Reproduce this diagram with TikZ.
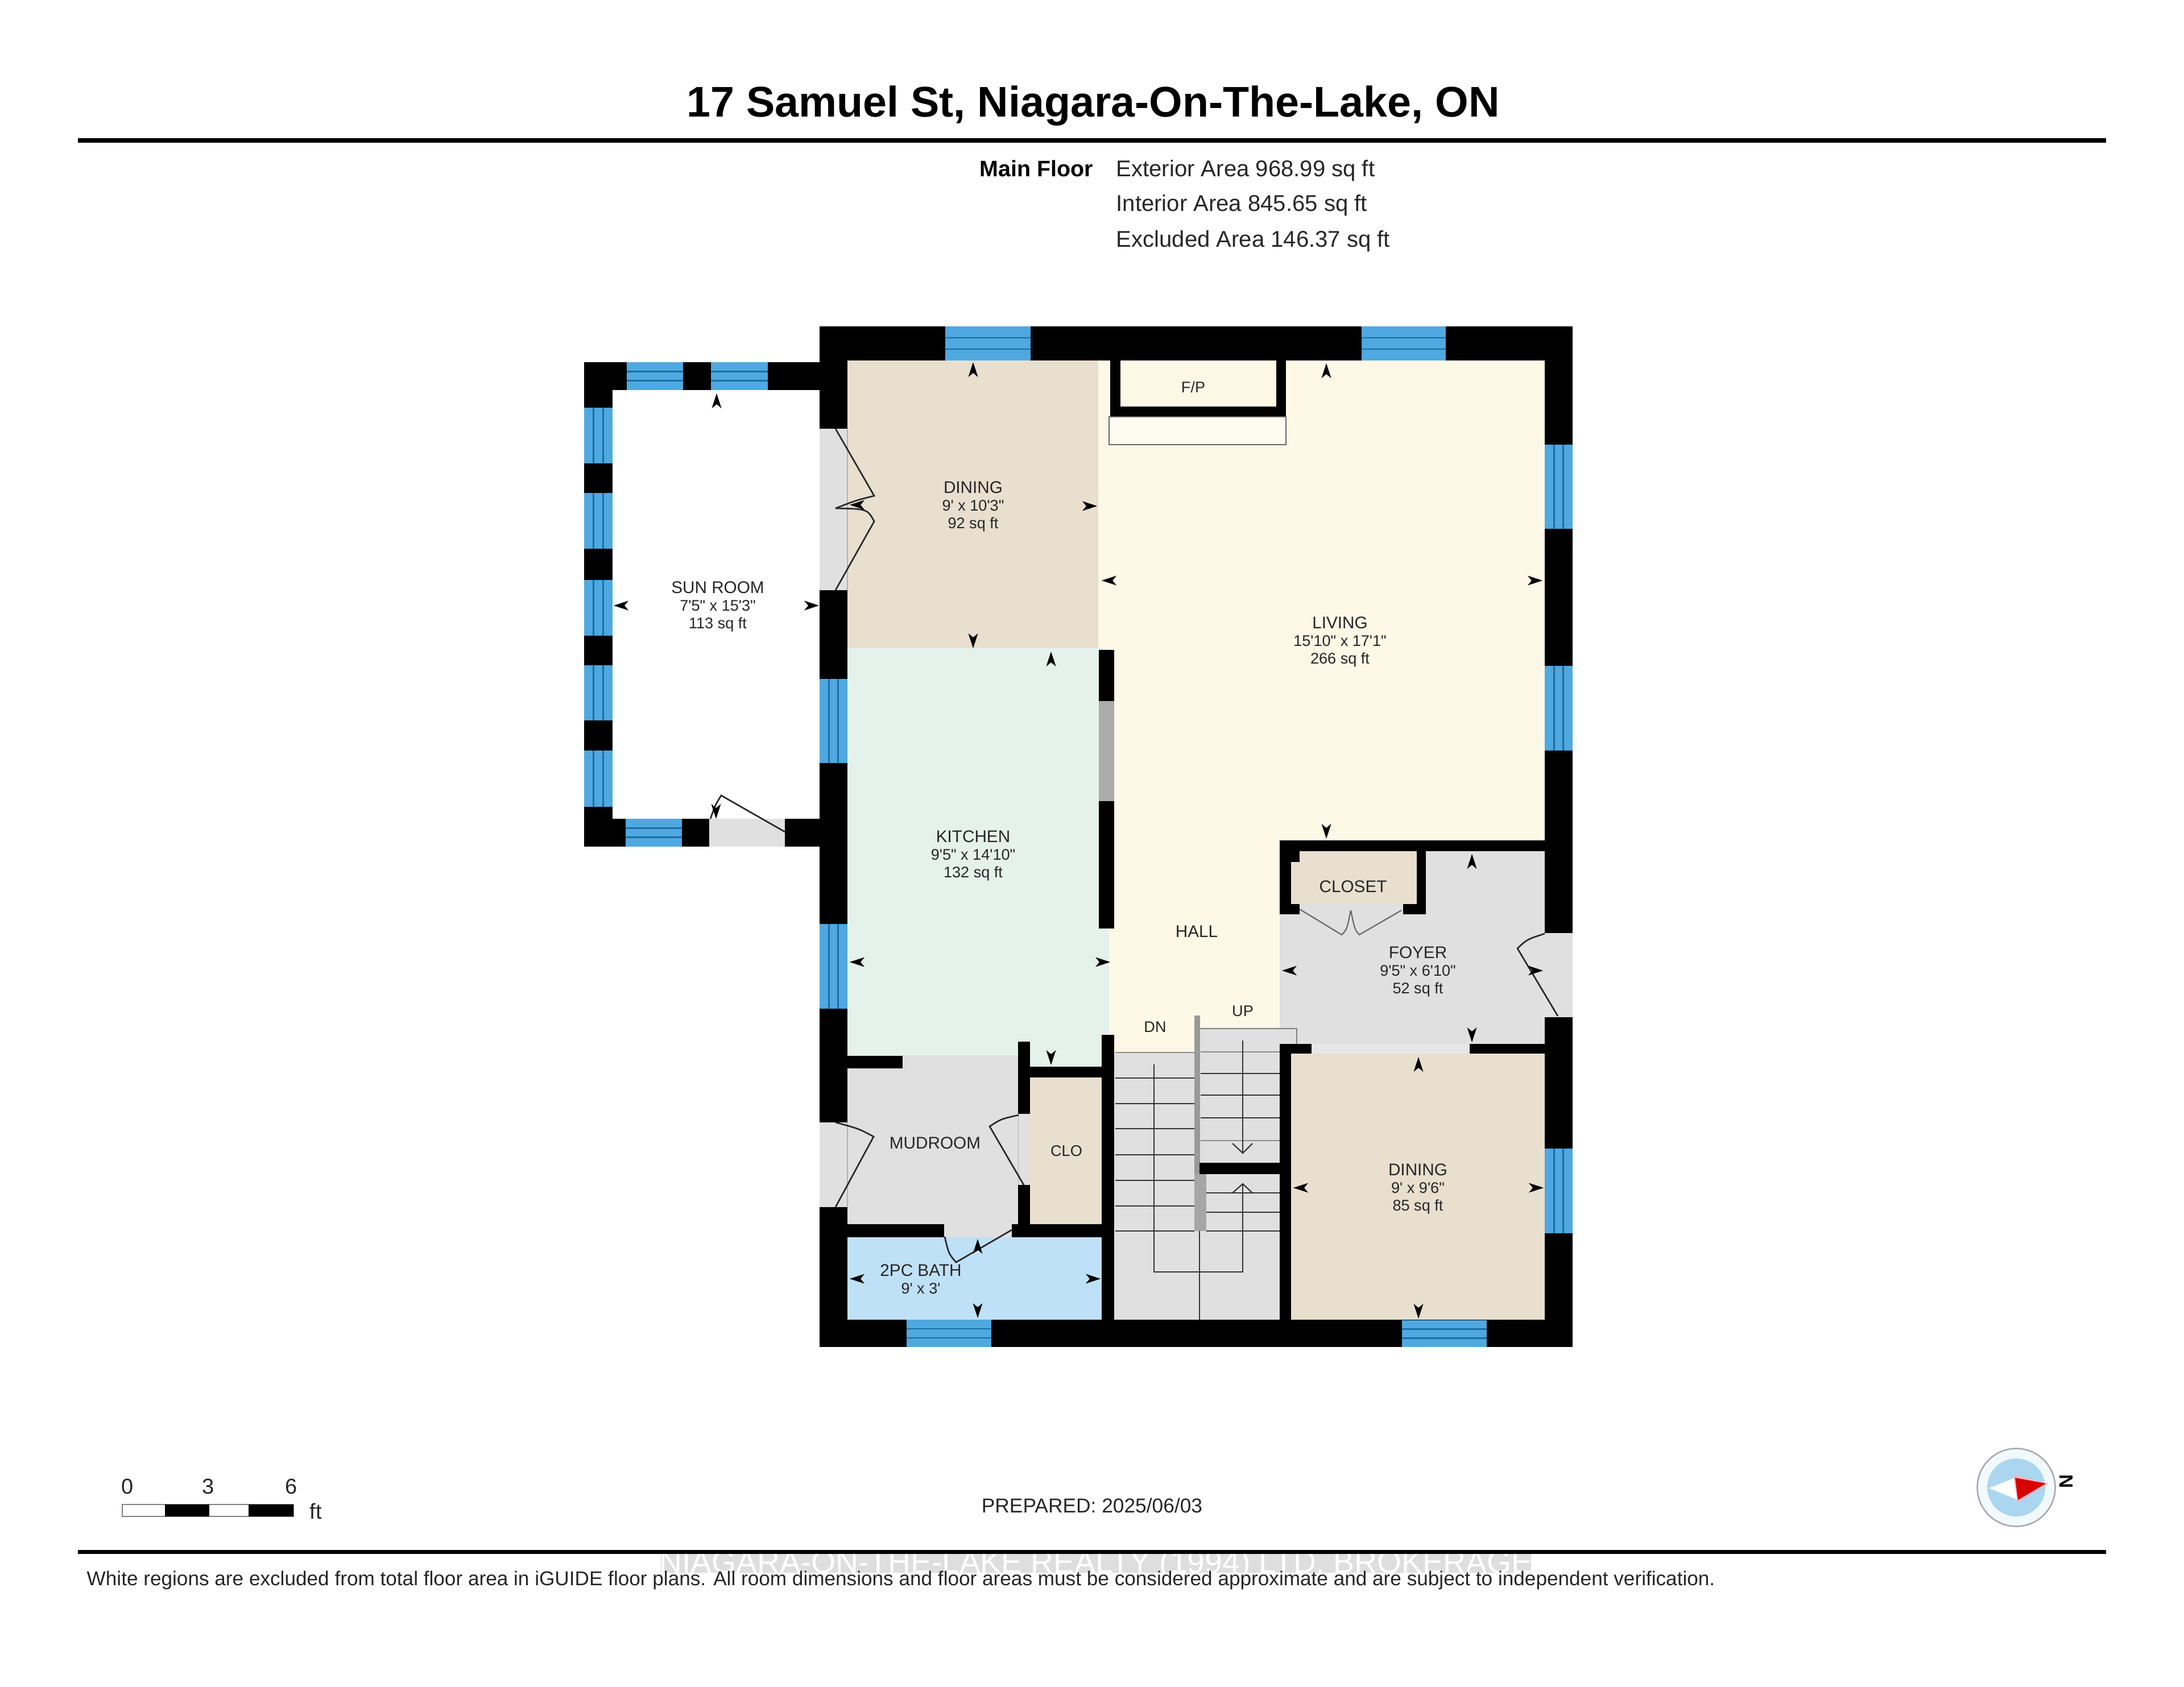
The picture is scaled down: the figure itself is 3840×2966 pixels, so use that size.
\documentclass[tikz,border=0pt]{standalone}
\usepackage{fontspec}
\newfontfamily\lib{Liberation Sans}
\definecolor{beige}{HTML}{E8DFCF}
\definecolor{mint}{HTML}{E5F2EC}
\definecolor{cream}{HTML}{FEF8E7}
\definecolor{greyroom}{HTML}{E0E0E0}
\definecolor{bathblue}{HTML}{BFE1F7}
\definecolor{winblue}{HTML}{4FA8DF}
\definecolor{windark}{HTML}{1A6EA5}
\definecolor{pinkedge}{HTML}{F5B5C5}
\definecolor{compblue}{HTML}{ABD6F0}
\definecolor{compring}{HTML}{F1F9FD}
\tikzset{
  roomlabel/.style={font=\lib\fontsize{7.7}{8.9}\selectfont, align=center, text=black!85, inner sep=0pt},
  leaf/.style={draw=black!85, line width=0.75pt, line join=miter},
  closetleaf/.style={draw=black!60, line width=0.6pt},
  tread/.style={draw=black!80, line width=0.5pt},
  treadpale/.style={draw=black!45, line width=0.6pt},
  runline/.style={draw=black!80, line width=0.6pt},
  infotext/.style={font=\lib\fontsize{11.4}{13}\selectfont, anchor=west, inner sep=0pt, text=black!85},
  smalltext/.style={font=\lib\fontsize{10}{11}\selectfont, inner sep=0pt, text=black!85},
  scaletext/.style={font=\lib\fontsize{10.8}{12}\selectfont, inner sep=0pt, text=black!85},
}
\newcommand{\nm}[1]{{\fontsize{8.45}{8.9}\selectfont #1}}
\newcommand{\wall}[4]{\fill[black] (#1,#3) rectangle (#2,#4);}
\newcommand{\room}[5]{\fill[#1] (#2,#4) rectangle (#3,#5);}
\newcommand{\winh}[4]{\fill[winblue] (#1,#3) rectangle (#2,#4);
  \draw[windark,line width=0.7pt] ({#1},{#3+(#4-#3)/3}) -- ({#2},{#3+(#4-#3)/3}) ({#1},{#3+2*(#4-#3)/3}) -- ({#2},{#3+2*(#4-#3)/3});}
\newcommand{\winv}[4]{\fill[winblue] (#1,#3) rectangle (#2,#4);
  \draw[windark,line width=0.7pt] ({#1+(#2-#1)/3},#3) -- ({#1+(#2-#1)/3},#4) ({#1+2*(#2-#1)/3},#3) -- ({#1+2*(#2-#1)/3},#4);}
\newcommand{\doorway}[4]{\fill[greyroom] (#1,#3) rectangle (#2,#4);}
\newcommand{\tick}[3]{\fill[black,shift={(#1,#2)},rotate=#3] (13,0) -- (-13,-8.5) -- (-6,0) -- (-13,8.5) -- cycle;}
\newcommand{\arU}[2]{\tick{#1}{#2}{90}}
\newcommand{\arD}[2]{\tick{#1}{#2}{-90}}
\newcommand{\arL}[2]{\tick{#1}{#2}{180}}
\newcommand{\arR}[2]{\tick{#1}{#2}{0}}
\begin{document}
\begin{tikzpicture}[x=0.01cm,y=-0.01cm]
\useasboundingbox (0,0) rectangle (3840,2966);
\fill[white] (0,0) rectangle (3840,2966);
% header
\node[font=\lib\bfseries\fontsize{21.45}{24}\selectfont, inner sep=0pt] (title) at (1922,186) {17 Samuel St, Niagara-On-The-Lake, ON};
\coordinate (ruleAa) at (137,247); \coordinate (ruleAb) at (3703,247);
\draw[black,line width=2pt] (ruleAa) -- (ruleAb);
\node[font=\lib\bfseries\fontsize{11.2}{13}\selectfont, anchor=west, inner sep=0pt] (mainfloor) at (1722,296) {Main Floor};
\node[infotext] (ext) at (1962,300) {Exterior Area 968.99 sq ft};
\node[infotext] (int) at (1962,361) {Interior Area 845.65 sq ft};
\node[infotext] (exc) at (1962,424) {Excluded Area 146.37 sq ft};
% room fills
\room{cream}{1931}{2716}{634}{1478}
\room{cream}{1950}{2250}{1478}{1860}
\room{beige}{1490}{1931}{634}{1140}
\room{mint}{1490}{1950}{1140}{1856}
\room{mint}{1790}{1937}{1856}{1880}
\room{greyroom}{1490}{1790}{1856}{2153}
\room{beige}{1811}{1937}{1895}{2153}
\room{bathblue}{1490}{1937}{2176}{2321}
\room{greyroom}{2250}{2716}{1497}{1853}
\room{beige}{2270}{2491}{1497}{1590}
\room{beige}{2270}{2716}{1853}{2322}
\room{greyroom}{1959}{2250}{1850}{2322}
\room{greyroom}{2109}{2280}{1809}{1850}
\draw[black!50,line width=0.4pt] (2109,1809) -- (2280,1809) -- (2280,1836);
% outer walls
\wall{1441}{2765}{574}{634}
\wall{1441}{1490}{574}{2369}
\wall{2716}{2765}{574}{2369}
\wall{1441}{2765}{2321}{2369}
% sun room walls
\wall{1027}{1441}{637}{686}
\wall{1027}{1077}{637}{1489}
\wall{1027}{1443}{1440}{1489}
% interior walls
\wall{1932}{1959}{1143}{1233}
\fill[black!33] (1932,1233) rectangle (1959,1409);
\wall{1932}{1959}{1409}{1633}
\wall{1937}{1959}{1820}{2322}
\wall{1490}{1587}{1857}{1879}
\wall{1790}{1811}{1832}{1959}
\wall{1790}{1811}{2084}{2153}
\wall{1811}{1937}{1876}{1895}
\wall{1490}{1660}{2153}{2176}
\wall{1779}{1937}{2153}{2176}
\wall{2250}{2716}{1478}{1497}
\wall{2250}{2270}{1478}{1608}
\wall{2250}{2285}{1478}{1516}
\wall{2250}{2285}{1590}{1608}
\wall{2491}{2507}{1478}{1608}
\wall{2467}{2507}{1590}{1608}
\wall{2250}{2306}{1836}{1853}
\wall{2584}{2716}{1836}{1853}
\wall{2250}{2270}{1836}{2322}
% fireplace
\wall{1952}{1970}{634}{732}
\wall{2244}{2261}{634}{732}
\wall{1952}{2261}{715}{732}
\draw[black!60,line width=0.5pt,fill=cream!60!white] (1950,733) rectangle (2261,782);
% openings
\doorway{1441}{1490}{754}{1038}
\doorway{1441}{1490}{1974}{2123}
\doorway{1790}{1811}{1959}{2084}
\doorway{1660}{1779}{2153}{2176}
\doorway{2716}{2765}{1641}{1789}
\doorway{1247}{1380}{1440}{1489}
\fill[greyroom!80!white] (2306,1836) rectangle (2584,1853);
\draw[black!30,line width=0.3pt] (1490,754) -- (1490,1038) (1490,1974) -- (1490,2123) (1790,1959) -- (1790,2084);
% windows
\winh{1662}{1812}{574}{634}
\winh{2394}{2542}{574}{634}
\winh{1102}{1201}{637}{686}
\winh{1250}{1350}{637}{686}
\winh{1100}{1199}{1440}{1489}
\winh{1594}{1743}{2321}{2369}
\winh{2465}{2614}{2322}{2369}
\winv{1027}{1077}{717}{815}
\winv{1027}{1077}{867}{965}
\winv{1027}{1077}{1020}{1118}
\winv{1027}{1077}{1170}{1267}
\winv{1027}{1077}{1320}{1419}
\winv{1441}{1490}{1194}{1342}
\winv{1441}{1490}{1625}{1774}
\winv{2716}{2765}{782}{930}
\winv{2716}{2765}{1171}{1320}
\winv{2716}{2765}{2020}{2169}
% door leaves
\draw[leaf] (1469,754) -- (1537,872) .. controls (1505,880) .. (1469,894);
\draw[leaf] (1469,1038) -- (1537,917) .. controls (1525,895) .. (1469,894);
\draw[leaf] (1380,1463) -- (1268,1399) .. controls (1258,1415) .. (1249,1440);
\draw[leaf] (1469,2123) -- (1536,1999) .. controls (1510,1985) .. (1469,1974);
\draw[leaf] (1800,2084) -- (1740,1981) .. controls (1760,1968) .. (1791,1961);
\draw[leaf] (1779,2163) -- (1681,2220) .. controls (1668,2205) .. (1661,2175);
\draw[leaf] (2739,1787) -- (2668,1668) .. controls (2685,1652) .. (2716,1642);
\draw[closetleaf] (2285,1599) -- (2359,1644) .. controls (2368,1635) .. (2375,1601);
\draw[closetleaf] (2464,1601) -- (2390,1644) .. controls (2382,1635) .. (2375,1601);
% stairs
\draw[treadpale] (1961,1851) -- (2100,1851);
\foreach \yy in {1896,1941,1985,2031,2076,2121,2165} {\draw[tread] (1961,\yy) -- (2100,\yy);}
\draw[treadpale] (2111,1850) -- (2250,1850);
\foreach \yy in {1888,1926,1966} {\draw[tread] (2111,\yy) -- (2250,\yy);}
\draw[treadpale] (2111,2006) -- (2250,2006);
\foreach \yy in {2098,2132,2165} {\draw[tread] (2121,\yy) -- (2250,\yy);}
\fill[black!40] (2100,1786) rectangle (2110,2165);
\fill[black!35] (2100,2063) rectangle (2121,2165);
\wall{2109}{2250}{2045}{2065}
\draw[tread] (2109,2165) -- (2109,2322);
\draw[runline] (2029,1872) -- (2029,2237) -- (2185,2237) -- (2185,2082);
\draw[runline] (2167,2098) -- (2185,2082) -- (2202,2098);
\draw[runline] (2185,1830) -- (2185,2028);
\draw[runline] (2167,2011) -- (2185,2028) -- (2202,2011);
% dimension arrowheads
\arU{1260}{705} \arD{1259}{1427} \arL{1092}{1065} \arR{1427}{1065}
\arU{1711}{650} \arD{1711}{1127} \arL{1507}{888} \arR{1916}{890}
\arU{1848}{1159} \arD{1848}{1860} \arL{1507}{1692} \arR{1939}{1692}
\arU{2332}{652} \arD{2332}{1462} \arL{1950}{1021} \arR{2699}{1021}
\arU{1719}{2192} \arD{1719}{2305} \arL{1507}{2249} \arR{1922}{2249}
\arU{2588}{1515} \arD{2588}{1820} \arL{2267}{1707} \arR{2700}{1707}
\arU{2494}{1872} \arD{2494}{2306} \arL{2287}{2089} \arR{2701}{2089}
% labels
\node[roomlabel] (sun) at (1262,1067) {\nm{SUN ROOM}\\7'5" x 15'3"\\113 sq ft};
\node[roomlabel] (din) at (1711,891) {\nm{DINING}\\9' x 10'3"\\92 sq ft};
\node[roomlabel] (kit) at (1711,1505) {\nm{KITCHEN}\\9'5" x 14'10"\\132 sq ft};
\node[roomlabel] (liv) at (2356,1129) {\nm{LIVING}\\15'10" x 17'1"\\266 sq ft};
\node[roomlabel] (fp) at (2098,681) {F/P};
\node[roomlabel] (hall) at (2104,1638) {\nm{HALL}};
\node[roomlabel] (dn) at (2031,1806) {DN};
\node[roomlabel] (up) at (2185,1778) {UP};
\node[roomlabel] (closet) at (2379,1559) {\nm{CLOSET}};
\node[roomlabel] (foyer) at (2493,1709) {\nm{FOYER}\\9'5" x 6'10"\\52 sq ft};
\node[roomlabel] (din2) at (2493,2091) {\nm{DINING}\\9' x 9'6"\\85 sq ft};
\node[roomlabel] (mud) at (1644,2010) {\nm{MUDROOM}};
\node[roomlabel] (clo) at (1875,2024) {CLO};
\node[roomlabel] (bath) at (1619,2250) {\nm{2PC BATH}\\9' x 3'};
% scale bar
\draw[black!50,fill=white,line width=0.4pt] (215,2646) rectangle (516,2667);
\fill[black] (290,2646) rectangle (368,2667);
\fill[black] (437,2646) rectangle (516,2667);
\node[scaletext] (s0) at (224,2614) {0};
\node[scaletext] (s3) at (366,2614) {3};
\node[scaletext] (s6) at (512,2614) {6};
\node[scaletext] (sft) at (555,2658) {ft};
\node[font=\lib\fontsize{10.05}{12}\selectfont, inner sep=0pt, text=black!85] (prep) at (1920,2648) {PREPARED: 2025/06/03};
% compass
\draw[black!35,fill=compring,line width=0.7pt] (3545,2616) circle (68.5);
\fill[compblue] (3545,2616) circle (51);
\fill[white] (3497,2617) -- (3543,2599) -- (3548,2638) -- cycle;
\fill[pinkedge] (3540,2594) -- (3601,2609) -- (3547,2643) -- cycle;
\fill[red!85!black] (3543,2599) -- (3597,2609) -- (3548,2638) -- cycle;
\node[font=\lib\bfseries\fontsize{9.5}{10}\selectfont, rotate=90, inner sep=0pt] (north) at (3633,2605) {N};
% footer
\coordinate (ruleBa) at (137,2729); \coordinate (ruleBb) at (3703,2729);
\fill[black!13] (1162,2733) rectangle (2692,2766);
\node[font=\lib\fontsize{15.7}{18}\selectfont, text=white, inner sep=0pt, anchor=base] (wm) at (1927,2766) {NIAGARA-ON-THE-LAKE REALTY (1994) LTD. BROKERAGE};
\draw[black,line width=2pt] (ruleBa) -- (ruleBb);
\node[smalltext,anchor=west] (foot) at (152,2779) {White regions are excluded from total floor area in iGUIDE floor plans. All room dimensions and floor areas must be considered approximate and are subject to independent verification.};
\end{tikzpicture}
\end{document}
